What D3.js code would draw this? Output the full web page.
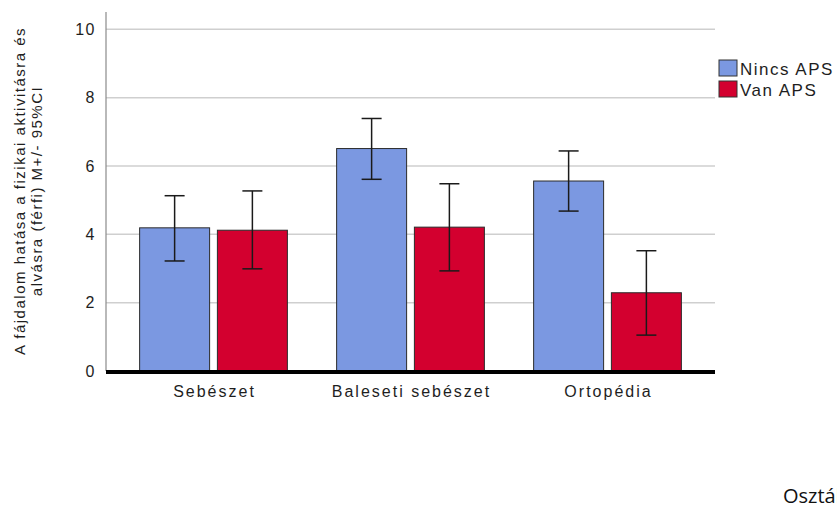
<!DOCTYPE html>
<html>
<head>
<meta charset="utf-8">
<script src="https://cdn.jsdelivr.net/npm/d3@7"></script>
<style>
  html, body { margin: 0; padding: 0; background: #fff; overflow: hidden; }
  svg { display: block; }
  .lbl { font-family: "Liberation Sans", Arial, sans-serif; fill: #1e1e1e; }
</style>
</head>
<body>
<svg id="chart" width="837" height="508"></svg>
<script>
// Departments on the x axis
const categories = ["Sebészet", "Baleseti sebészet", "Ortopédia"];
// Groups shown side by side within each department
const series = ["Nincs APS", "Van APS"];
// Group means
const meansNincs = [4.19, 6.51, 5.56];
const meansVan = [4.12, 4.21, 2.29];
// 95% confidence interval bounds
const lowerNincs = [3.22, 5.61, 4.68];
const upperNincs = [5.13, 7.39, 6.44];
const lowerVan = [2.99, 2.93, 1.05];
const upperVan = [5.27, 5.48, 3.52];
// Y axis ticks
const yTicks = [0, 2, 4, 6, 8, 10];
const yTitle = ["A fájdalom hatása a fizikai aktivitásra és", "alvásra (férfi) M+/- 95%CI"];
const xTitle = "Osztály";

const colors = { "Nincs APS": "#7b98e1", "Van APS": "#d3002f" };

const rows = [];
categories.forEach((c, i) => {
  rows.push({ cat: c, s: series[0], v: meansNincs[i], lo: lowerNincs[i], hi: upperNincs[i] });
  rows.push({ cat: c, s: series[1], v: meansVan[i], lo: lowerVan[i], hi: upperVan[i] });
});

const svg = d3.select("#chart");
const axisX = 106, gridRight = 715;

const y = d3.scaleLinear().domain([0, 10]).range([371, 29.3]);
const x0 = d3.scaleBand().domain(categories).range([115, 706]).paddingInner(0.25).paddingOuter(0.125);
const x1 = d3.scaleBand().domain(series).range([0, x0.bandwidth()]).paddingInner(0.1);

// Horizontal gridlines
svg.append("g").selectAll("line").data(yTicks.filter(t => t > 0)).join("line")
  .attr("x1", axisX).attr("x2", gridRight)
  .attr("y1", d => y(d)).attr("y2", d => y(d))
  .attr("stroke", "#cfcfcf").attr("stroke-width", 1.5);

// Y axis line
svg.append("line").attr("x1", axisX).attr("x2", axisX).attr("y1", 12).attr("y2", y(0))
  .attr("stroke", "#8a8a8a").attr("stroke-width", 1.2);

// Y tick labels
svg.append("g").selectAll("text").data(yTicks).join("text")
  .attr("class", "lbl")
  .attr("x", 96).attr("y", d => y(d)).attr("dy", "0.36em")
  .attr("text-anchor", "end")
  .style("font-size", "16px").style("letter-spacing", "1.5px")
  .text(d => d);

// Bars
svg.append("g").selectAll("rect").data(rows).join("rect")
  .attr("x", d => x0(d.cat) + x1(d.s))
  .attr("width", x1.bandwidth())
  .attr("y", d => y(d.v))
  .attr("height", d => y(0) - y(d.v))
  .attr("fill", d => colors[d.s])
  .attr("stroke", "#2b2b2b").attr("stroke-width", 1);

// Error bars
const eb = svg.append("g").attr("stroke", "#1a1a1a").attr("stroke-width", 1.5);
rows.forEach(d => {
  const cx = x0(d.cat) + x1(d.s) + x1.bandwidth() / 2;
  eb.append("line").attr("x1", cx).attr("x2", cx).attr("y1", y(d.hi)).attr("y2", y(d.lo));
  eb.append("line").attr("x1", cx - 10).attr("x2", cx + 10).attr("y1", y(d.hi)).attr("y2", y(d.hi));
  eb.append("line").attr("x1", cx - 10).attr("x2", cx + 10).attr("y1", y(d.lo)).attr("y2", y(d.lo));
});

// Baseline
svg.append("line").attr("x1", axisX).attr("x2", gridRight).attr("y1", y(0) + 1).attr("y2", y(0) + 1)
  .attr("stroke", "#000").attr("stroke-width", 4);

// Category labels
svg.append("g").selectAll("text").data(categories).join("text")
  .attr("class", "lbl")
  .attr("x", d => x0(d) + x0.bandwidth() / 2 + 1).attr("y", 397)
  .attr("text-anchor", "middle")
  .style("font-size", "16px").style("letter-spacing", "2px")
  .text(d => d);

// Y axis title (two lines, rotated)
const yt = svg.append("text").attr("class", "lbl")
  .attr("transform", "translate(0,191) rotate(-90)")
  .attr("text-anchor", "middle")
  .style("font-size", "15px").style("letter-spacing", "1.5px");
yt.append("tspan").attr("x", 0).attr("y", 25).text(yTitle[0]);
yt.append("tspan").attr("x", 0).attr("y", 42).text(yTitle[1]);

// Legend
const lg = svg.append("g").attr("transform", "translate(719,60)");
series.forEach((s, i) => {
  lg.append("rect").attr("x", 0).attr("y", i * 21).attr("width", 18).attr("height", 16)
    .attr("fill", colors[s]).attr("stroke", "#333").attr("stroke-width", 1);
  lg.append("text").attr("class", "lbl")
    .attr("x", 21).attr("y", i * 21 + 15)
    .style("font-size", "17px").style("letter-spacing", "1.5px")
    .text(s);
});

// X axis title
svg.append("text")
  .attr("x", 783).attr("y", 503)
  .style("font-family", "'Open Sans', sans-serif").style("font-size", "20px").style("fill", "#111")
  .text(xTitle);
</script>
</body>
</html>
